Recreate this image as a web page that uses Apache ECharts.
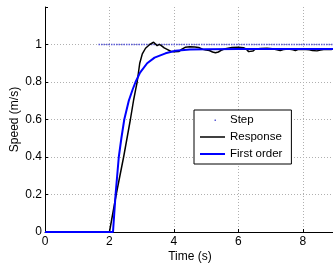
<!DOCTYPE html>
<html>
<head>
<meta charset="utf-8">
<script src="https://cdn.jsdelivr.net/npm/echarts@6/dist/echarts.min.js"></script>
<style>
  html, body { margin: 0; padding: 0; background: #fff; }
  #chart { width: 333px; height: 264px; }
</style>
</head>
<body>
<div id="chart"></div>
<script>
// values: [time (s), speed (m/s)]
const stepData = [[1.66, 1], [9, 1]]
const responseData = [
  [0, 0], [2.0, 0], [2.21, 0.2], [2.44, 0.4], [2.65, 0.6], [2.75, 0.704], [2.81, 0.757],
  [2.86, 0.8], [2.94, 0.9], [3.02, 0.95], [3.12, 0.98], [3.25, 1.0], [3.37, 1.012],
  [3.43, 1.005], [3.48, 0.994], [3.55, 1.001], [3.62, 0.993], [3.7, 0.982], [3.79, 0.974],
  [3.9, 0.964], [4.0, 0.961], [4.05, 0.958], [4.15, 0.962], [4.25, 0.975], [4.35, 0.985],
  [4.5, 0.988], [4.65, 0.987], [4.77, 0.984], [4.9, 0.974], [5.0, 0.97], [5.1, 0.968],
  [5.2, 0.96], [5.29, 0.956], [5.38, 0.96], [5.49, 0.971], [5.6, 0.978], [5.8, 0.984],
  [6.0, 0.985], [6.16, 0.983], [6.25, 0.975], [6.32, 0.962], [6.37, 0.954], [6.45, 0.965],
  [6.53, 0.976], [6.7, 0.979], [6.89, 0.98], [7.05, 0.977], [7.2, 0.972], [7.3, 0.968],
  [7.4, 0.973], [7.55, 0.976], [7.7, 0.972], [7.77, 0.968], [7.85, 0.973], [8.0, 0.975],
  [8.2, 0.972], [8.3, 0.968], [8.44, 0.966], [8.55, 0.97], [8.7, 0.974], [8.9, 0.974], [9, 0.975]
]
const firstOrderData = [
  [0, 0], [2.11, 0], [2.19, 0.2], [2.24, 0.3], [2.29, 0.4], [2.37, 0.5], [2.46, 0.6],
  [2.6, 0.7], [2.72, 0.76], [2.81, 0.8], [2.95, 0.85], [3.17, 0.9], [3.4, 0.93],
  [3.74, 0.953], [4.05, 0.967], [4.5, 0.973], [5, 0.975], [6, 0.976], [9, 0.976]
]
const xTicks = [0, 2, 4, 6, 8]
const yTicks = [0, 0.2, 0.4, 0.6, 0.8, 1]

const font = "'Liberation Sans', Arial, sans-serif"
const gridDots = { type: [1, 2], width: 1 }
const stepColor = '#5b5bd6'

const chart = echarts.init(document.getElementById('chart'))
chart.setOption({
  animation: false,
  backgroundColor: '#fff',
  textStyle: { fontFamily: font },
  grid: { left: 45, right: -2, top: 7, bottom: 32, outerBoundsMode: 'none', containLabel: false },
  legend: {
    orient: 'vertical',
    left: 194, top: 110,
    padding: [4, 9, 4, 6],
    itemWidth: 25, itemHeight: 12, itemGap: 5,
    borderColor: '#000', borderWidth: 1, borderRadius: 0,
    backgroundColor: '#fff',
    textStyle: { color: '#000', fontSize: 11.5, lineHeight: 12, fontFamily: font },
    data: [
      { name: 'Step', icon: 'path://M0,0M25,12M14.5,5.5h1.5v1.5h-1.5z', itemStyle: { color: stepColor } },
      { name: 'Response', icon: 'path://M0,0M25,12M0,5.25h25v1.5h-25z', itemStyle: { color: '#000' } },
      { name: 'First order', icon: 'path://M0,0M25,12M0,5h25v2h-25z', itemStyle: { color: '#0000ff' } }
    ]
  },
  xAxis: {
    type: 'value', min: 0, max: 9, interval: 2,
    name: 'Time (s)', nameLocation: 'middle', nameGap: 19, nameMoveOverlap: false,
    nameTextStyle: { color: '#000', fontSize: 12, fontFamily: font },
    axisLine: { show: true, lineStyle: { color: '#000', width: 1 } },
    axisTick: { show: true, inside: true, length: 3, lineStyle: { color: '#000' } },
    axisLabel: {
      color: '#000', fontSize: 12, margin: 4, showMaxLabel: false,
      formatter: v => xTicks.includes(v) ? String(v) : ''
    },
    splitLine: { show: true, lineStyle: { ...gridDots, color: '#b0b0b0' } }
  },
  yAxis: {
    type: 'value', min: 0, max: 1.2, interval: 0.2,
    name: 'Speed (m/s)', nameLocation: 'middle', nameGap: 24, nameMoveOverlap: false,
    nameTextStyle: { color: '#000', fontSize: 12, fontFamily: font },
    axisLine: { show: true, lineStyle: { color: '#000', width: 1 } },
    axisTick: { show: true, inside: true, length: 3, lineStyle: { color: '#000' } },
    axisLabel: {
      color: '#000', fontSize: 12, margin: 3,
      formatter: v => yTicks.some(t => Math.abs(t - v) < 1e-6) ? String(+v.toFixed(1)) : ''
    },
    splitLine: {
      show: true,
      lineStyle: {
        ...gridDots,
        color: ['#b0b0b0', '#b0b0b0', '#b0b0b0', '#b0b0b0', '#b0b0b0', '#b0b0b0', 'rgba(0,0,0,0)']
      }
    }
  },
  series: [
    {
      name: 'Step', type: 'line', data: stepData,
      symbol: 'none',
      lineStyle: { color: stepColor, width: 1.5, type: [1.5, 1] },
      itemStyle: { color: stepColor }
    },
    {
      name: 'Response', type: 'line', data: responseData,
      symbol: 'none',
      lineStyle: { color: '#000', width: 1.5 },
      itemStyle: { color: '#000' }
    },
    {
      name: 'First order', type: 'line', data: firstOrderData,
      symbol: 'none',
      lineStyle: { color: '#0000ff', width: 2 },
      itemStyle: { color: '#0000ff' }
    }
  ]
})
</script>
</body>
</html>
